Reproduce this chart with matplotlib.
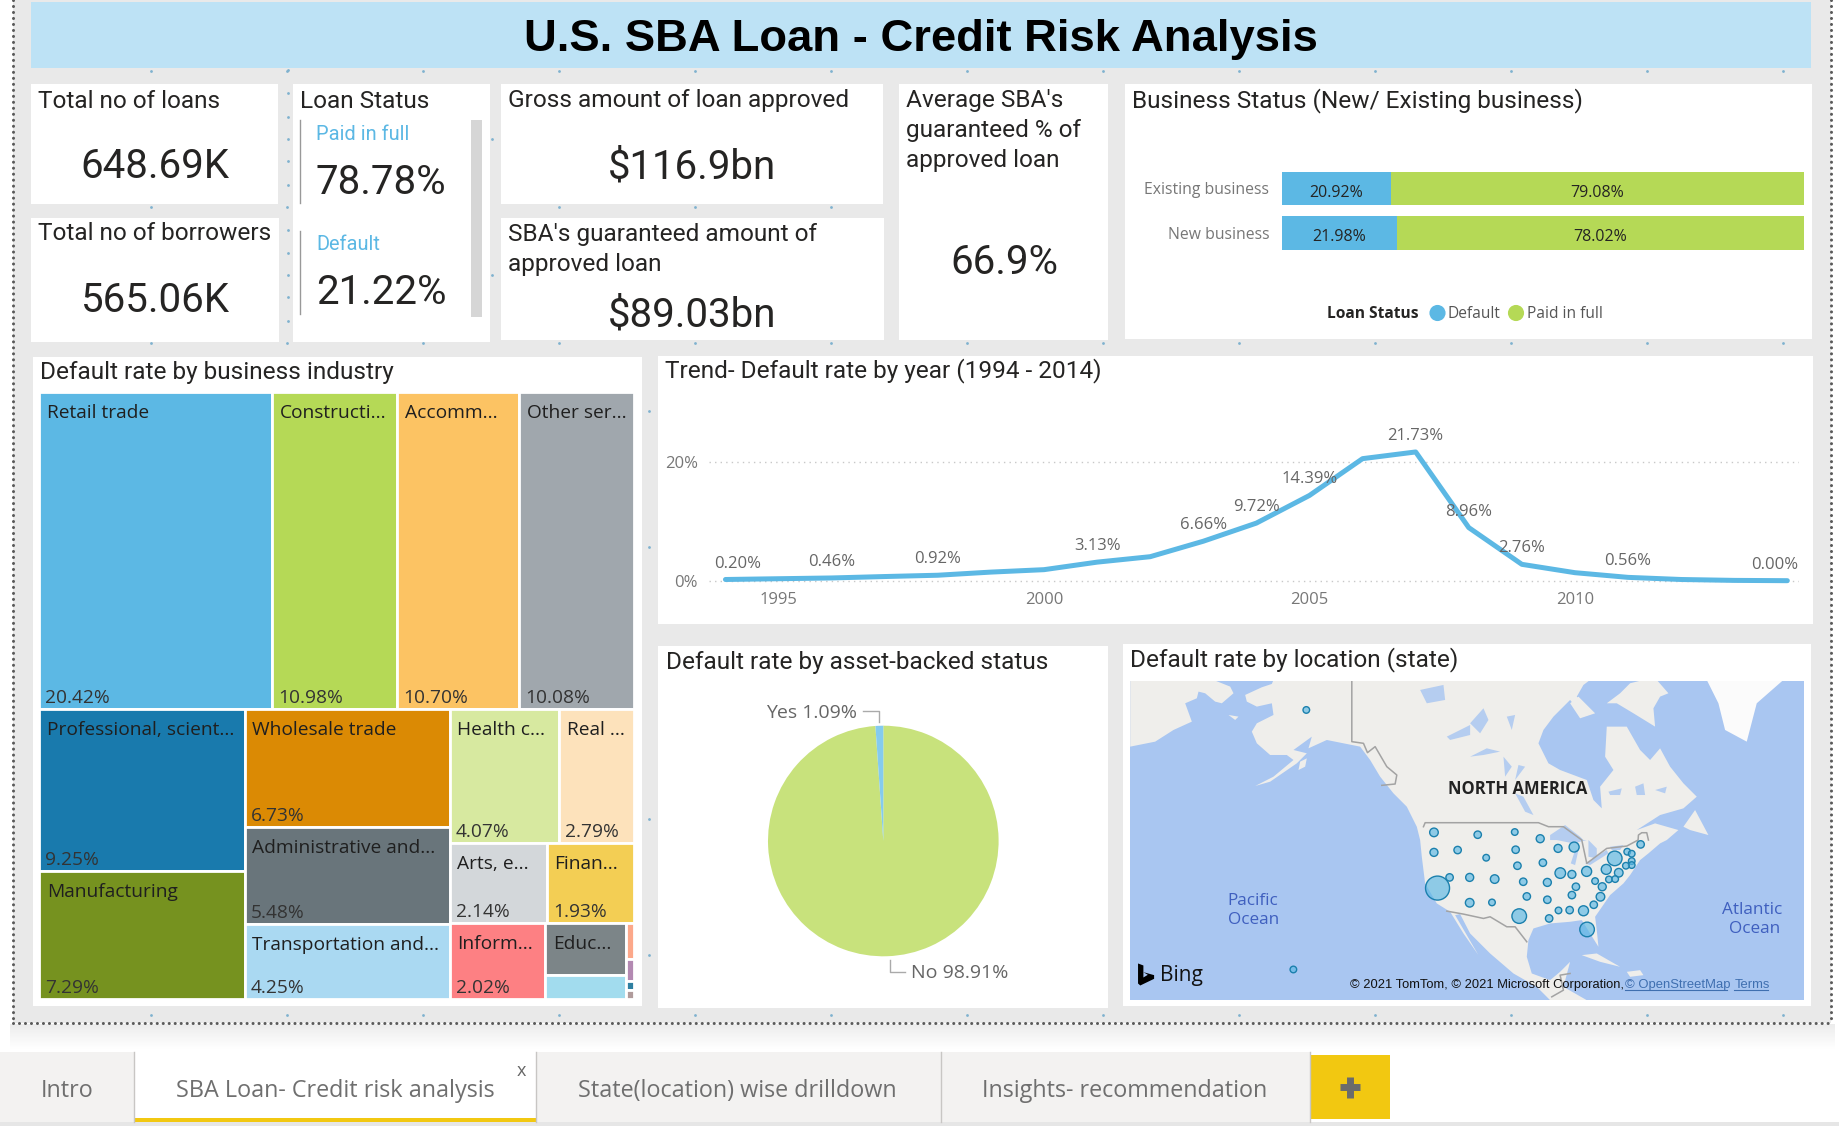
import numpy as np
import matplotlib
matplotlib.use("Agg")
import matplotlib.pyplot as plt
from matplotlib.patches import Rectangle, Polygon

W, H = 1840, 1126

# ---- data ----
status_cats = ["Existing business", "New business"]
status_default = [20.92, 21.98]
status_paid = [79.08, 78.02]

trend_years = list(range(1994, 2015))
trend_rate = [0.20, 0.33, 0.46, 0.70, 0.92, 1.45, 1.86, 3.13, 4.05, 6.66, 9.72,
              14.39, 20.60, 21.73, 8.96, 2.76, 1.35, 0.56, 0.20, 0.05, 0.00]
trend_labelled = [1994, 1996, 1998, 2001, 2003, 2004, 2005, 2007, 2008, 2009, 2011, 2014]

pie_labels = ["No", "Yes"]
pie_values = [98.91, 1.09]

industry_names = ["Retail trade", "Constructi...", "Accomm...", "Other ser...",
                  "Professional, scient...", "Manufacturing",
                  "Wholesale trade", "Administrative and...", "Transportation and...",
                  "Health c...", "Real ...", "Arts, e...", "Finan...", "Inform...", "Educ...",
                  "", "", "", "", ""]
industry_rate = [20.42, 10.98, 10.70, 10.08, 9.25, 7.29, 6.73, 5.48, 4.25,
                 4.07, 2.79, 2.14, 1.93, 2.02, 1.17, 0.53, 0.08, 0.05, 0.02, 0.02]
industry_color = ["#5cb8e4", "#b5d956", "#fcc363", "#a0a7ad", "#197aad", "#76921f",
                  "#db8a04", "#69757b", "#aad9f2", "#d7e9a0", "#fde2bb", "#d3d7da",
                  "#f3ce54", "#fd8083", "#7c8588", "#a2dcee", "#fca88a", "#b389b2",
                  "#2f7fa0", "#b09b9b"]
# h = side by side, v = stacked, ints index the lists above
industry_tree = ("v", [("h", [0, 1, 2, 3]),
                       ("h", [("v", [4, 5]),
                              ("v", [6, 7, 8]),
                              ("v", [("h", [9, 10]),
                                     ("h", [11, 12]),
                                     ("h", [13, ("h", [("v", [14, 15]),
                                                       ("v", [16, 17, 18, 19])])])])])])

state_x = [417, 388, 703, 703, 801, 884, 941, 756, 820, 886, 890, 981, 1017, 947, 738, 711,
           783, 839, 903, 957, 986, 1012, 1045, 1089, 1108, 1136, 1146, 1166, 1146, 1146,
           1133, 1117, 1064, 1095, 1109, 1080, 1021, 1012, 1076, 1061, 1038, 1007, 982, 957,
           911, 894, 961, 1046, 783, 833]
state_y = [210, 988, 577, 637, 584, 576, 596, 630, 653, 629, 677, 625, 621, 668, 712, 744,
           712, 717, 725, 727, 699, 703, 694, 688, 655, 635, 641, 613, 663, 675,
           677, 698, 723, 718, 717, 740, 740, 765, 770, 794, 812, 810, 811, 779,
           769, 828, 835, 868, 788, 787]
state_r = [3.3, 3.3, 4.3, 4, 3.7, 3.3, 4, 3.7, 3.3, 3.7, 3.7, 4, 5, 3.7, 3.7, 12,
           4, 4.3, 3.7, 4, 5.3, 4, 5, 5, 7.3, 3.3, 3.3, 3.7, 3.3, 3.3,
           3.3, 4.3, 3.3, 3.3, 3.3, 4, 3.7, 3.7, 4.3, 3.7, 5, 3.7, 3.3, 3.7,
           3.7, 7.3, 3.7, 7.3, 4.3, 3.3]

tab_names = ["Intro", "SBA Loan- Credit risk analysis", "State(location) wise drilldown",
             "Insights- recommendation"]

DIN = "Roboto"
SEGOE = "Open Sans"
BLUE = "#5cb8e4"
GREEN = "#b5d956"
INK = "#252423"
GREY = "#777777"
TITLE_SIZE = 17.6
KPI_SIZE = 29


def sub_axes(fig, x0, y0, x1, y1):
    """ axes placed by pixel box of the full picture """
    return fig.add_axes([x0 / W, 1 - y1 / H, (x1 - x0) / W, (y1 - y0) / H])


def panel(ax, x0, y0, x1, y1, color="white"):
    ax.add_patch(Rectangle((x0, y0), x1 - x0, y1 - y0, fc=color, ec="none", zorder=2))


def txt(ax, x, y, s, size=TITLE_SIZE, ha="left", color=INK, family=DIN, **kw):
    ax.text(x, y, s, fontsize=size, ha=ha, va="center", color=color, family=family, zorder=5, **kw)


def subtotal(node):
    if isinstance(node, int):
        return industry_rate[node]
    return sum(subtotal(k) for k in node[1])


def layout(node, x, y, w, h, out):
    """ splits a box along the tree by the summed values """
    if isinstance(node, int):
        out.append((node, x, y, w, h))
        return
    direction, kids = node
    pos = 0.0
    for k in kids:
        share = subtotal(k) / subtotal(node)
        if direction == "h":
            layout(k, x + pos * w, y, share * w, h, out)
        else:
            layout(k, x, y + pos * h, w, share * h, out)
        pos += share


fig = plt.figure(figsize=(W / 100, H / 100), dpi=100, facecolor="white")
base = fig.add_axes([0, 0, 1, 1])
base.set_xlim(0, W)
base.set_ylim(H, 0)
base.axis("off")

# ---- page background, snap dots, dotted frame ----
panel(base, 13, 0, 1831, 1023, "#e9e9e9")
grad = np.linspace(0.925, 1, 40).reshape(-1, 1)
base.imshow(grad, extent=(10, 1835, 1050, 1024), cmap="gray", vmin=0, vmax=1, aspect="auto", zorder=1)
base.set_xlim(0, W)
base.set_ylim(H, 0)
dot_x = [151 + 136 * i for i in range(13)]
for yy in [70.7, 207, 343, 479, 615, 751, 887, 1015]:
    base.scatter(dot_x, [yy] * len(dot_x), s=4, color="#7fb2cf", zorder=1.5, lw=0)
base.scatter([288] * 11, [117, 139, 161, 185, 230, 253, 275, 297, 321, 93, 70],
             s=4, color="#7fb2cf", zorder=1.5, lw=0)
base.scatter([492, 492, 649, 649, 649, 649], [139, 275, 411, 547, 819, 955],
             s=4, color="#7fb2cf", zorder=1.5, lw=0)
panel_grey = base.patches[0]
panel_grey.set_zorder(1)
for xs, ys in [([13, 13], [0, 1023]), ([13, 1831], [1023, 1023]), ([1831, 1831], [0, 1023])]:
    base.plot(xs, ys, color="#5a5a5a", lw=2.2, ls=(0, (0.01, 1.95)), dash_capstyle="round", zorder=3)

# ---- header ----
panel(base, 31, 2, 1811, 68, "#bde2f5")
txt(base, 921, 39, "U.S. SBA Loan - Credit Risk Analysis", size=32.7, ha="center",
    color="black", family="Liberation Sans", fontweight="bold")

# ---- cards ----
card_boxes = [(31, 84, 278, 204), (31, 218, 279, 342), (293, 84, 490, 342), (501, 84, 883, 204),
              (501, 218, 884, 340), (899, 84, 1108, 340), (1125, 84, 1812, 339),
              (33, 357, 642, 1006), (658, 356, 1813, 624), (658, 646, 1108, 1008),
              (1123, 644, 1811, 1006)]
for box in card_boxes:
    panel(base, *box)

txt(base, 38, 101, "Total no of loans")
txt(base, 155, 167, "648.69K", size=KPI_SIZE, ha="center")
txt(base, 38, 233, "Total no of borrowers")
txt(base, 155, 300, "565.06K", size=KPI_SIZE, ha="center")

txt(base, 300, 101, "Loan Status")
txt(base, 316, 134, "Paid in full", size=14.4, color=BLUE)
txt(base, 316, 182, "78.78%", size=KPI_SIZE)
txt(base, 316, 245, "Default", size=14.4, color=BLUE)
txt(base, 316, 293, "21.22%", size=KPI_SIZE)
base.plot([300, 300], [120, 203], color="#999999", lw=1, zorder=4)
base.plot([300, 300], [231, 314], color="#999999", lw=1, zorder=4)
base.add_patch(Rectangle((471, 120), 11, 197, fc="#d6d6d6", ec="none", zorder=4))

txt(base, 508, 101, "Gross amount of loan approved")
txt(base, 692, 167, "$116.9bn", size=KPI_SIZE, ha="center")
txt(base, 508, 234, "SBA's guaranteed amount of")
txt(base, 508, 264, "approved loan")
txt(base, 692, 315, "$89.03bn", size=KPI_SIZE, ha="center")

txt(base, 906, 101, "Average SBA's")
txt(base, 906, 131, "guaranteed % of")
txt(base, 906, 160, "approved loan")
txt(base, 1004, 263, "66.9%", size=KPI_SIZE, ha="center")

# ---- business status bars ----
txt(base, 1132, 101, "Business Status (New/ Existing business)")
ax = sub_axes(fig, 1282, 166, 1804, 255)
ypos = np.arange(len(status_cats))
b1 = ax.barh(ypos, status_default, height=0.75, color=BLUE)
b2 = ax.barh(ypos, status_paid, left=status_default, height=0.75, color=GREEN)
for i in ypos:
    ax.annotate(f"{status_default[i]:.2f}%", (status_default[i] / 2, i), xytext=(0, -3),
                textcoords="offset points", fontsize=11.5, color=INK, family=SEGOE, ha="center", va="center")
    ax.annotate(f"{status_paid[i]:.2f}%", (status_default[i] + status_paid[i] / 2, i), xytext=(0, -3),
                textcoords="offset points", fontsize=11.5, color=INK, family=SEGOE, ha="center", va="center")
ax.set_xlim(0, 100)
ax.set_ylim(1.49, -0.5)
ax.set_yticks(ypos, status_cats, fontsize=11.3, color=GREY, family=SEGOE)
ax.tick_params(length=0, pad=9)
ax.xaxis.set_visible(False)
for s in ax.spines.values():
    s.set_visible(False)
ax.patch.set_alpha(0)

txt(base, 1327, 314, "Loan Status", size=11.2, family=SEGOE, fontweight="bold")
base.scatter([1437.5, 1516], [313, 313], s=135, color=[BLUE, GREEN], lw=0, zorder=5)
txt(base, 1448, 314, "Default", size=11.2, family=SEGOE, color="#555555")
txt(base, 1527, 314, "Paid in full", size=11.2, family=SEGOE, color="#555555")

# ---- treemap ----
txt(base, 40, 373, "Default rate by business industry")
ax = sub_axes(fig, 39, 392, 634, 999)
cells = []
layout(industry_tree, 0, 0, 100, 100, cells)
for i, x, y, w, h in cells:
    ax.bar(x, h, width=w, bottom=y, align="edge", color=industry_color[i], edgecolor="white", linewidth=2)
    if industry_names[i]:
        ax.annotate(industry_names[i], (x, y), xytext=(5.5, -8.5), textcoords="offset points",
                    fontsize=13.8, family=SEGOE, color="#1f1f1f", va="top", ha="left")
    if i < 14:
        ax.annotate(f"{industry_rate[i]:.2f}%", (x, y + h), xytext=(4.5, 1.5), textcoords="offset points",
                    fontsize=13.8, family=SEGOE, color="#333333", va="bottom", ha="left")
ax.set_xlim(0, 100)
ax.set_ylim(100, 0)
ax.axis("off")

# ---- trend line ----
txt(base, 665, 371, "Trend- Default rate by year (1994 - 2014)")
ax = sub_axes(fig, 709, 400, 1799, 584)
ax.plot(trend_years, trend_rate, color=BLUE, lw=3.6, solid_capstyle="round", zorder=3)
for yr, val in zip(trend_years, trend_rate):
    if yr in trend_labelled:
        dx = 8.5 if yr == 1994 else (-9 if yr == 2014 else 0)
        ax.annotate(f"{val:.2f}%", (yr, val), xytext=(dx, 11.5), textcoords="offset points",
                    fontsize=12, family=SEGOE, color="#666666", ha="center", va="center", zorder=4)
ax.set_xlim(1993.69, 2014.22)
ax.set_ylim(-0.56, 30.5)
ax.set_yticks([0, 20], ["0%", "20%"], fontsize=12, family=SEGOE, color=GREY)
ax.set_xticks([1995, 2000, 2005, 2010], ["1995", "2000", "2005", "2010"], fontsize=12,
              family=SEGOE, color=GREY)
ax.tick_params(length=0, pad=8)
ax.tick_params(axis="x", pad=5.5)
ax.grid(axis="y", color="#c8c8c8", ls=(0, (1, 3)), lw=1)
ax.set_axisbelow(True)
for s in ax.spines.values():
    s.set_visible(False)
ax.patch.set_alpha(0)

# ---- pie ----
txt(base, 666, 663, "Default rate by asset-backed status")
ax = sub_axes(fig, 768, 725.7, 998.6, 956.3)
ax.pie(pie_values, colors=["#c8e27c", "#84cbee"], startangle=90, counterclock=False, radius=1,
       wedgeprops={"linewidth": 0})
ax.set_xlim(-1, 1)
ax.set_ylim(-1, 1)
# leader lines from slice middles
mid_no = np.deg2rad(pie_values[0] / 2 * 3.6)
mid_yes = np.deg2rad((pie_values[0] + pie_values[1] / 2) * 3.6)
ax.plot([np.sin(mid_yes) * 1.03, np.sin(mid_yes) * 1.03, -0.18], [1.03, 1.125, 1.125],
        color="#aaaaaa", lw=1, clip_on=False)
ax.plot([np.sin(mid_no) * 1.03 + 0.02, np.sin(mid_no) * 1.03 + 0.02, 0.19], [-1.035, -1.137, -1.137],
        color="#aaaaaa", lw=1, clip_on=False)
txt(base, 857, 713.5, f"{pie_labels[1]} {pie_values[1]:.2f}%", size=14, ha="right", family=SEGOE, color="#666666")
txt(base, 911, 973, f"{pie_labels[0]} {pie_values[0]:.2f}%", size=14, family=SEGOE, color="#666666")


# ---- map ----
def crop(ox, oy, pts):
    return [((ox + x / 3 - 1120) * 2.24, (oy + y / 3 - 640) * 3) for x, y in pts]


def ca(pts):
    return crop(1130, 680, pts)


def cb(pts):
    return crop(1470, 680, pts)


def cc(pts):
    return crop(1400, 840, pts)


txt(base, 1130, 660, "Default rate by location (state)")
ax = sub_axes(fig, 1130, 680.6, 1804, 999.5)
OCEAN = "#a9c6f1"
LAND = "#efeeeb"
ax.set_facecolor(OCEAN)

mainland = (
    ca([(430, 0), (425, 12), (395, 22), (345, 45), (350, 65), (380, 80), (425, 70), (430, 105), (380, 130),
        (365, 155), (380, 190), (420, 225), (470, 225), (490, 240), (430, 290), (375, 318), (420, 305),
        (500, 250), (530, 220), (490, 210), (545, 170), (535, 205), (590, 180), (640, 190), (690, 200),
        (720, 240), (750, 290), (790, 340), (830, 380), (860, 440), (870, 480)])
    + cc([(60, 0), (65, 50), (75, 130), (110, 190), (150, 215), (190, 280), (235, 345), (200, 285), (165, 225),
          (180, 222), (210, 280), (270, 340), (340, 400), (410, 440), (450, 480), (560, 480), (490, 440),
          (510, 365), (480, 395), (450, 420), (395, 400), (380, 350), (385, 300), (400, 265), (450, 250),
          (510, 245), (545, 240), (570, 280), (595, 320), (590, 270), (585, 230), (630, 165), (670, 130),
          (690, 105), (720, 60), (745, 40), (780, 10), (800, 0)])
    + cb([(625, 450), (590, 440), (555, 430), (500, 450), (570, 405), (640, 385), (680, 350), (640, 310),
          (600, 260), (570, 205), (540, 240), (510, 210), (470, 140), (410, 140), (405, 230), (430, 270),
          (390, 320), (395, 385), (370, 360), (350, 300), (270, 270), (235, 250), (205, 190), (220, 150),
          (250, 110), (300, 60), (340, 110), (370, 100), (320, 50), (340, 15), (360, 0)])
)
land_shapes = [
    mainland,
    ca([(0, 0), (250, 0), (300, 20), (310, 40), (275, 70), (255, 65), (225, 40), (205, 35), (200, 55), (165, 70),
        (185, 125), (130, 150), (75, 185), (0, 200)]),
    ca([(505, 270), (510, 245), (530, 235), (525, 260)]),
    ca([(295, 105), (325, 110), (315, 120)]),
    cb([(410, 70), (450, 40), (480, 10), (520, 0), (560, 0), (595, 40), (570, 50), (550, 85), (555, 140),
        (490, 100), (440, 70)]),
    cb([(300, 70), (325, 50), (375, 100), (330, 115)]),
    cb([(640, 440), (675, 390), (715, 465), (660, 450)]),
    cc([(545, 345), (590, 340), (660, 380), (600, 365)]),
    cc([(680, 395), (720, 390), (730, 405), (690, 410)]),
]
for pts in land_shapes:
    ax.add_patch(Polygon(pts, fc=LAND, ec="none", zorder=1))
ax.add_patch(Polygon(cb([(710, 0), (940, 0), (860, 70), (830, 185), (765, 150), (745, 70)]),
                     fc="#fbfbfb", ec="none", zorder=1))
water_shapes = [
    ca([(870, 30), (940, 15), (945, 60), (890, 70)]),
    ca([(950, 170), (1020, 135), (1020, 165), (960, 180)]),
    cb([(0, 230), (50, 205), (90, 215), (40, 225)]),
    cb([(0, 130), (40, 85), (55, 120), (30, 160)]),
    cb([(110, 110), (135, 105), (125, 150)]),
    cb([(145, 255), (165, 260), (135, 300)]),
    cb([(100, 230), (125, 260), (105, 290)]),
    cb([(135, 340), (160, 350), (190, 405), (165, 395)]),
    cb([(240, 465), (285, 435), (330, 470), (340, 480), (240, 480)]),
    cb([(415, 335), (455, 325), (450, 345), (420, 345)]),
    cb([(495, 320), (520, 310), (525, 345), (500, 345)]),
    cb([(555, 330), (590, 320), (585, 340)]),
    cc([(525, 30), (535, 30), (525, 75), (512, 70)]),
    cc([(565, 0), (590, 25), (590, 55), (565, 50)]),
    cc([(555, 70), (620, 30), (625, 40), (570, 75)]),
    cc([(630, 20), (670, 15), (660, 30), (635, 30)]),
    cc([(470, 0), (560, 0), (520, 10)]),
]
for pts in water_shapes:
    ax.add_patch(Polygon(pts, fc="#b5cdf0", ec="none", zorder=1.2))
border_lines = [
    ca([(665, 0), (665, 185), (700, 190), (712, 218), (735, 200), (770, 260), (800, 285), (795, 312), (755, 316)]),
    ca([(880, 440), (885, 428), (1020, 428)]) + cb([(205, 428), (235, 440), (280, 440), (335, 480)])
    + cc([(560, 70), (620, 25), (680, 18), (714, 0)]) + cb([(505, 465), (515, 458), (530, 458), (535, 480)]),
    cc([(140, 213), (190, 222), (250, 235), (270, 230), (320, 260), (345, 260), (380, 305)]),
    cc([(455, 470), (490, 450), (480, 405), (510, 400)]),
]
for pts in border_lines:
    ax.plot([p[0] for p in pts], [p[1] for p in pts], color="#a3a3a3", lw=1.1, zorder=2)
ax.scatter(state_x, state_y, s=[(2 * r * 0.72) ** 2 for r in state_r], facecolor="#5cb8e4a8",
           edgecolor="#1b80ad", lw=1, zorder=3)
ax.text(890, 448, "NORTH AMERICA", fontsize=12, family=SEGOE, fontweight="bold", color="#222222",
        ha="center", va="center", zorder=4)
for x, y, s in [(296, 783, "Pacific"), (298, 841, "Ocean"), (1415, 810, "Atlantic"), (1421, 867, "Ocean")]:
    ax.text(x, y, s, fontsize=12.3, family=SEGOE, color="#3f5fbf", ha="center", va="center", zorder=4)
ax.add_patch(Polygon([(40, 970), (52, 976), (52, 1012), (62, 1004), (52, 996), (76, 1005), (76, 1016),
                      (45, 1036), (40, 1030)], fc="black", ec="none", zorder=4))
ax.text(90, 1007, "Bing", fontsize=15, family=SEGOE, color="#111111", va="center", zorder=4)
ax.text(515, 1035, "© 2021 TomTom, © 2021 Microsoft Corporation,", fontsize=9.25, family="Liberation Sans",
        color="#111111", va="center", zorder=4)
ax.text(1130, 1035, "© OpenStreetMap", fontsize=9.4, family="Liberation Sans", color="#3f6fb0", va="center",
        zorder=4)
ax.text(1376, 1035, "Terms", fontsize=9.4, family="Liberation Sans", color="#3f6fb0", va="center", zorder=4)
ax.plot([1130, 1360], [1050, 1050], color="#3f6fb0", lw=0.8, zorder=4)
ax.plot([1376, 1452], [1050, 1050], color="#3f6fb0", lw=0.8, zorder=4)
ax.set_xlim(22, 1532)
ax.set_ylim(1078, 122)
ax.set_xticks([])
ax.set_yticks([])
for s in ax.spines.values():
    s.set_visible(False)

# ---- tabs ----
panel(base, 0, 1052, 1310, 1122, "#f3f2f1")
panel(base, 134, 1052, 536, 1122, "white")
panel(base, 134, 1118, 536, 1122, "#f2c811")
panel(base, 0, 1122, W, 1126, "#e6e6e6")
panel(base, 1310, 1055, 1390, 1119, "#f2c811")
for x in [134, 536, 941, 1310]:
    base.plot([x, x], [1052, 1122], color="#c8c6c4", lw=1, zorder=3)
for x, s in zip([67, 335, 737, 1125], tab_names):
    txt(base, x, 1091, s, size=16.8, ha="center", family=SEGOE, color="#6f6f6f")
txt(base, 521, 1071, "x", size=13, ha="center", family=SEGOE, color="#666666")
base.plot([1340, 1360], [1087, 1087], color="#6b6b6b", lw=5, zorder=5, solid_capstyle="butt")
base.plot([1350, 1350], [1077, 1098], color="#6b6b6b", lw=5, zorder=5, solid_capstyle="butt")

fig.savefig("out.png", dpi=100)
